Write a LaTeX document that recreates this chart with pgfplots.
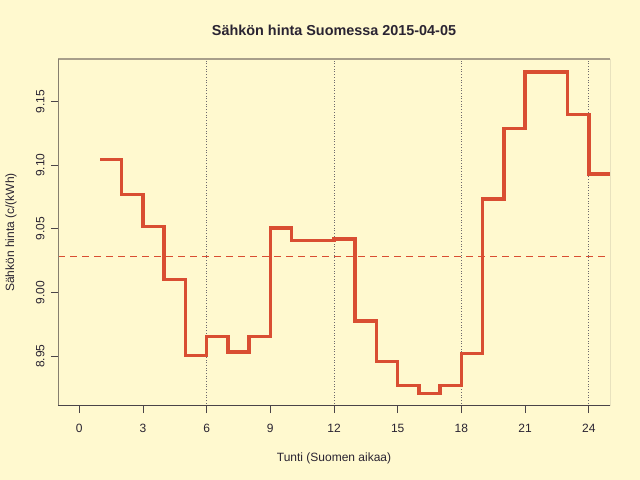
\documentclass[border=0pt]{standalone}
\usepackage{pgfplots}
\pgfplotsset{compat=1.18}
\usepackage{fontspec}
\setmainfont{Liberation Sans}
\definecolor{bg}{HTML}{FFF9CF}
\definecolor{txt}{HTML}{2A2432}
\definecolor{steprd}{HTML}{D94E32}
\definecolor{boxgray}{HTML}{A89F8A}
\definecolor{axdark}{HTML}{4A4448}
\begin{document}
\begin{tikzpicture}
\fill[bg] (0bp,0bp) rectangle (640bp,480bp);
\begin{axis}[
  at={(58bp,74bp)}, anchor=south west,
  scale only axis, width=552bp, height=347bp,
  xmin=-1, xmax=25, ymin=8.9107, ymax=9.1836,
  axis line style={draw=none},
  xtick={0,3,6,9,12,15,18,21,24},
  ytick={8.95,9,9.05,9.1,9.15},
  xtick pos=bottom, ytick pos=left,
  tick align=outside, major tick length=7bp,
  tick style={draw=axdark, line width=0.8bp},
  /pgf/number format/assume math mode=true,
  yticklabel={\pgfmathprintnumber[fixed,precision=2,fixed zerofill]{\tick}},
  xticklabel shift=8bp,
  yticklabel shift=3bp,
  xticklabel style={font=\fontsize{12bp}{14bp}\selectfont, text=txt},
  yticklabel style={font=\fontsize{12bp}{14bp}\selectfont, text=txt, rotate=90, anchor=south},
  clip=true,
]
\draw[dotted, draw=axdark!80, line width=0.7bp] (axis cs:6,8.9107) -- (axis cs:6,9.1836);
\draw[dotted, draw=axdark!80, line width=0.7bp] (axis cs:12,8.9107) -- (axis cs:12,9.1836);
\draw[dotted, draw=axdark!80, line width=0.7bp] (axis cs:18,8.9107) -- (axis cs:18,9.1836);
\draw[dotted, draw=axdark!80, line width=0.7bp] (axis cs:24,8.9107) -- (axis cs:24,9.1836);
\addplot[steprd, line width=1.4bp, dash pattern=on 7bp off 5bp, forget plot] coordinates {(-1,9.0285) (25,9.0285)};
\addplot[const plot mark left, steprd, line width=3.5bp, no markers] coordinates {
(1,9.1045) (2,9.0770) (3,9.0520) (4,9.0100) (5,8.9505) (6,8.9655)
(7,8.9530) (8,8.9655) (9,9.0508) (10,9.0408) (11,9.0408) (12,9.0419)
(13,8.9777) (14,8.9455) (15,8.9268) (16,8.9207) (17,8.9268) (18,8.9518)
(19,9.0733) (20,9.1288) (21,9.1734) (22,9.1734) (23,9.1401) (24,9.0932)
(25,9.0932)};
\draw[boxgray, line width=1.6bp] (rel axis cs:0,1) -- (rel axis cs:1,1);
\draw[axdark, line width=1bp] (rel axis cs:1,0) -- (rel axis cs:1,1);
\draw[boxgray!80!black, line width=1.3bp] (rel axis cs:0,0) -- (rel axis cs:0,1);
\draw[axdark, line width=1bp] (rel axis cs:0,0) -- (rel axis cs:1,0);
\end{axis}
\node[anchor=base, text=txt, font=\bfseries\fontsize{14.4bp}{17bp}\selectfont] at (334bp,444.7bp) {Sähkön hinta Suomessa 2015-04-05};
\node[anchor=base, text=txt, font=\fontsize{12bp}{14bp}\selectfont] at (334bp,19bp) {Tunti (Suomen aikaa)};
\node[anchor=base, rotate=90, text=txt, font=\fontsize{12bp}{14bp}\selectfont] at (14bp,247.5bp) {Sähkön hinta (c/(kWh)};
\end{tikzpicture}
\end{document}
